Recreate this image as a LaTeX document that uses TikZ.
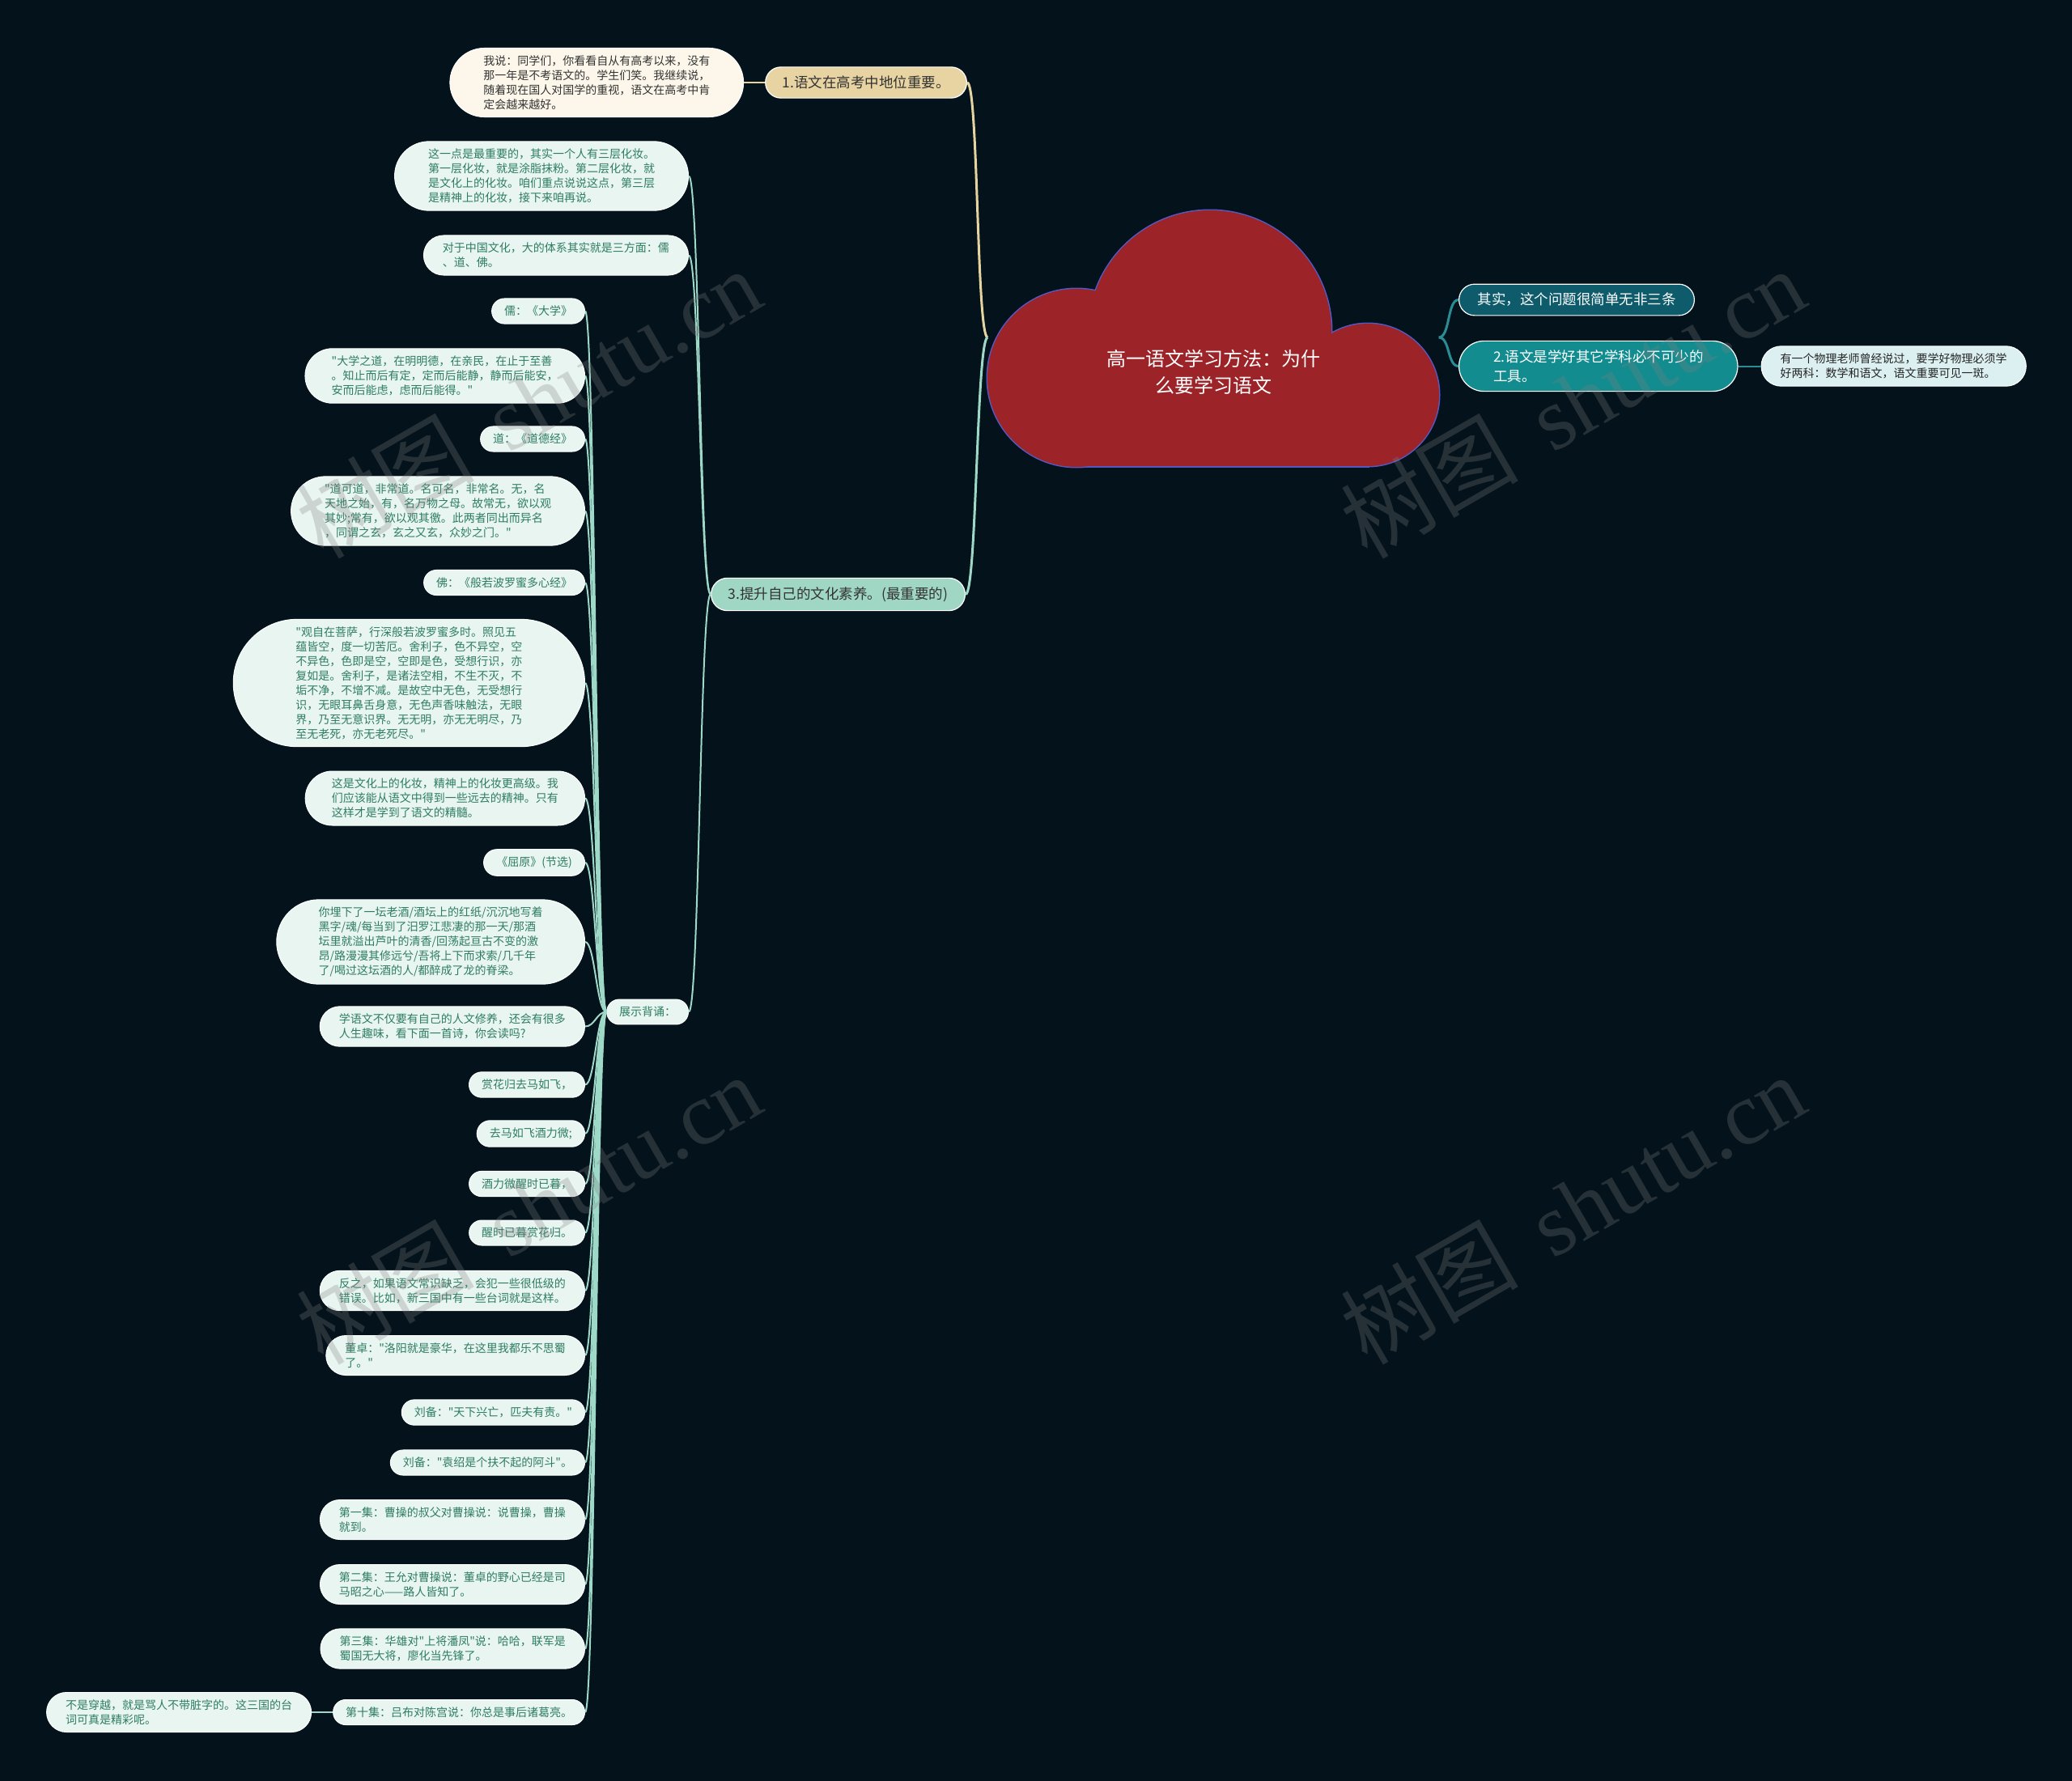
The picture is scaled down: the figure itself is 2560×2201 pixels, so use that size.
\documentclass[tikz,border=0pt]{standalone}
\usepackage{fontspec}
\newfontfamily\cjk{Noto Sans CJK SC}
\newfontfamily\wmfont{Liberation Serif}
\usetikzlibrary{shapes.misc,positioning}

\definecolor{bgc}{HTML}{03121B}
\definecolor{leaffill}{HTML}{E8F5F1}
\definecolor{leaftext}{HTML}{2E7D61}
\definecolor{creamfill}{HTML}{FCF7EA}
\definecolor{tanfill}{HTML}{E8D4A2}
\definecolor{mintfill}{HTML}{9FD6C4}
\definecolor{darkteal}{HTML}{0E5B6C}
\definecolor{tealfill}{HTML}{138C8F}
\definecolor{bluefill}{HTML}{DCEFF1}
\definecolor{cloudred}{HTML}{9C2328}
\definecolor{cloudline}{HTML}{5559C2}
\definecolor{tanline}{HTML}{E5D3A0}
\definecolor{mintline}{HTML}{9ED8C6}
\definecolor{tealline}{HTML}{2A8C94}

\begin{document}
\begin{tikzpicture}[x=1pt,y=-1pt,
    leaf/.style={rounded rectangle, draw=white, line width=1, fill=leaffill, text=leaftext,
      font=\cjk\fontsize{14}{18}\selectfont, inner xsep=#1, inner ysep=9, align=left},
    leaf/.default=14,
    branch/.style={rounded rectangle, draw=white, line width=1.2, text=black!80,
      font=\cjk\fontsize{17.5}{24}\selectfont, inner xsep=#1, inner ysep=11, align=left},
    branch/.default=19,
    twig/.style={draw=mintline, line width=2},
    wmark/.style={text=gray, opacity=0.28, font=\cjk\fontsize{110}{110}\selectfont, rotate=30}]

    % 背景
    \fill[bgc] (0,0) rectangle (2560,2201);
    \useasboundingbox (0,0) rectangle (2560,2201);

    % 中心（雲）
    \foreach \cx/\cy/\r in {1330/467/110, 1495/410/150, 1690/488/88}
        \draw[cloudline, line width=3] (\cx,\cy) circle[radius=\r];
    \draw[cloudline, line width=3] (1330,440) rectangle (1690,576);
    \foreach \cx/\cy/\r in {1330/467/110, 1495/410/150, 1690/488/88}
        \fill[cloudred] (\cx,\cy) circle[radius=\r];
    \fill[cloudred] (1330,440) rectangle (1690,576);
    \node[minimum width=557, minimum height=318] (root) at (1499,417) {};
    \node[text=white, align=center, font=\cjk\fontsize{24}{33}\selectfont] (title) at (1499,460)
        {高一语文学习方法：为什\\么要学习语文};

    % 右の枝
    \node[branch=21, fill=darkteal, text=white, anchor=west] (b2) at (1802,370.5) {其实，这个问题很简单无非三条};
    \node[branch=35, fill=tealfill, text=white, anchor=west] (b3) at (1802,452.5) {2.语文是学好其它学科必不可少的\\工具。};
    \node[leaf=18, fill=bluefill, text=black!85, right=28 of b3] (b3note)
        {有一个物理老师曾经说过，要学好物理必须学\\好两科：数学和语文，语文重要可见一斑。};

    % 左の枝
    \node[branch, fill=tanfill, anchor=east] (b1) at (1195,102) {1.语文在高考中地位重要。};
    \node[leaf=25, fill=creamfill, text=black!80, left=26 of b1] (b1note)
        {我说：同学们，你看看自从有高考以来，没有\\那一年是不考语文的。学生们笑。我继续说，\\随着现在国人对国学的重视，语文在高考中肯\\定会越来越好。};
    \node[branch, fill=mintfill, anchor=east] (b4) at (1193,734.5) {3.提升自己的文化素养。(最重要的)};
    \node[leaf=25, anchor=east] (b4a) at (851,217.5)
        {这一点是最重要的，其实一个人有三层化妆。\\第一层化妆，就是涂脂抹粉。第二层化妆，就\\是文化上的化妆。咱们重点说说这点，第三层\\是精神上的化妆，接下来咱再说。};
    \node[leaf=18, anchor=east] (b4b) at (851,315.5)
        {对于中国文化，大的体系其实就是三方面：儒\\、道、佛。};
    \node[leaf, anchor=east] (show) at (851,1250.5) {展示背诵：};

    % 展示背诵の子
    \node[leaf, anchor=east] (ru) at (723,384.5) {儒：《大学》};
    \node[leaf=22, anchor=east] (daxue) at (723,464.5)
        {"大学之道，在明明德，在亲民，在止于至善\\。知止而后有定，定而后能静，静而后能安，\\安而后能虑，虑而后能得。"};
    \node[leaf, anchor=east] (dao) at (723,542.5) {道：《道德经》};
    \node[leaf=25, anchor=east] (daoke) at (723,631.5)
        {"道可道，非常道。名可名，非常名。无，名\\天地之始，有，名万物之母。故常无，欲以观\\其妙;常有，欲以观其徼。此两者同出而异名\\，同谓之玄，玄之又玄，众妙之门。"};
    \node[leaf, anchor=east] (fo) at (723,720) {佛：《般若波罗蜜多心经》};
    \node[leaf=35, anchor=east] (guanzi) at (723,844)
        {"观自在菩萨，行深般若波罗蜜多时。照见五\\蕴皆空，度一切苦厄。舍利子，色不异空，空\\不异色，色即是空，空即是色，受想行识，亦\\复如是。舍利子，是诸法空相，不生不灭，不\\垢不净，不增不减。是故空中无色，无受想行\\识，无眼耳鼻舌身意，无色声香味触法，无眼\\界，乃至无意识界。无无明，亦无无明尽，乃\\至无老死，亦无老死尽。"};
    \node[leaf=22, anchor=east] (wenhua) at (723,986.5)
        {这是文化上的化妆，精神上的化妆更高级。我\\们应该能从语文中得到一些远去的精神。只有\\这样才是学到了语文的精髓。};
    \node[leaf, anchor=east] (quyuan) at (723,1066) {《屈原》(节选)};
    \node[leaf=29, anchor=east] (maijiu) at (723,1164)
        {你埋下了一坛老酒/酒坛上的红纸/沉沉地写着\\黑字/魂/每当到了汨罗江悲凄的那一天/那酒\\坛里就溢出芦叶的清香/回荡起亘古不变的激\\昂/路漫漫其修远兮/吾将上下而求索/几千年\\了/喝过这坛酒的人/都醉成了龙的脊梁。};
    \node[leaf=18, anchor=east] (xueyuwen) at (723,1268.5)
        {学语文不仅要有自己的人文修养，还会有很多\\人生趣味，看下面一首诗，你会读吗?};
    \node[leaf, anchor=east] (shi1) at (723,1340.5) {赏花归去马如飞，};
    \node[leaf, anchor=east] (shi2) at (723,1401) {去马如飞酒力微;};
    \node[leaf, anchor=east] (shi3) at (723,1463) {酒力微醒时已暮，};
    \node[leaf, anchor=east] (shi4) at (723,1523.5) {醒时已暮赏花归。};
    \node[leaf=18, anchor=east] (fanzhi) at (723,1595)
        {反之，如果语文常识缺乏，会犯一些很低级的\\错误。比如，新三国中有一些台词就是这样。};
    \node[leaf=18, anchor=east] (dongzhuo) at (723,1675)
        {董卓："洛阳就是豪华，在这里我都乐不思蜀\\了。"};
    \node[leaf, anchor=east] (liubeia) at (723,1745.5) {刘备："天下兴亡，匹夫有责。"};
    \node[leaf, anchor=east] (liubeib) at (723,1807.5) {刘备："袁绍是个扶不起的阿斗"。};
    \node[leaf=18, anchor=east] (jia) at (723,1878)
        {第一集：曹操的叔父对曹操说：说曹操，曹操\\就到。};
    \node[leaf=18, anchor=east] (jib) at (723,1958)
        {第二集：王允对曹操说：董卓的野心已经是司\\马昭之心——路人皆知了。};
    \node[leaf=18, anchor=east] (jic) at (723,2037.5)
        {第三集：华雄对"上将潘凤"说：哈哈，联军是\\蜀国无大将，廖化当先锋了。};
    \node[leaf, anchor=east] (jid) at (723,2116) {第十集：吕布对陈宫说：你总是事后诸葛亮。};
    \node[leaf=18, left=26 of jid] (chuanyue)
        {不是穿越，就是骂人不带脏字的。这三国的台\\词可真是精彩呢。};

    % 線
    \draw[tanline, line width=3] (root.west) .. controls +(-14,0) and +(14,0) .. (b1.east);
    \draw[mintline, line width=3] (root.west) .. controls +(-14,0) and +(14,0) .. (b4.east);
    \draw[tealline, line width=3] (root.east) .. controls +(14,0) and +(-14,0) .. (b2.west);
    \draw[tealline, line width=3] (root.east) .. controls +(14,0) and +(-14,0) .. (b3.west);
    \draw[tealline, line width=2] (b3.east) -- (b3note.west);
    \draw[tanline, line width=2] (b1.west) -- (b1note.east);
    \foreach \c in {b4a, b4b, show}
        \draw[twig] (b4.west) .. controls +(-13,0) and +(13,0) .. (\c.east);
    \foreach \c in {ru, daxue, dao, daoke, fo, guanzi, wenhua, quyuan, maijiu, xueyuwen,
                    shi1, shi2, shi3, shi4, fanzhi, dongzhuo, liubeia, liubeib, jia, jib, jic, jid}
        \draw[twig] (show.west) .. controls +(-12,0) and +(12,0) .. (\c.east);
    \draw[twig] (jid.west) -- (chuanyue.east);

    % 透かし
    \node[wmark] (wma) at (653,498) {树图\hspace{0.4em}{\wmfont shutu.cn}};
    \node[wmark] (wmb) at (1943,498) {树图\hspace{0.4em}{\wmfont shutu.cn}};
    \node[wmark] (wmc) at (653,1494) {树图\hspace{0.4em}{\wmfont shutu.cn}};
    \node[wmark] (wmd) at (1943,1494) {树图\hspace{0.4em}{\wmfont shutu.cn}};
\end{tikzpicture}
\end{document}
